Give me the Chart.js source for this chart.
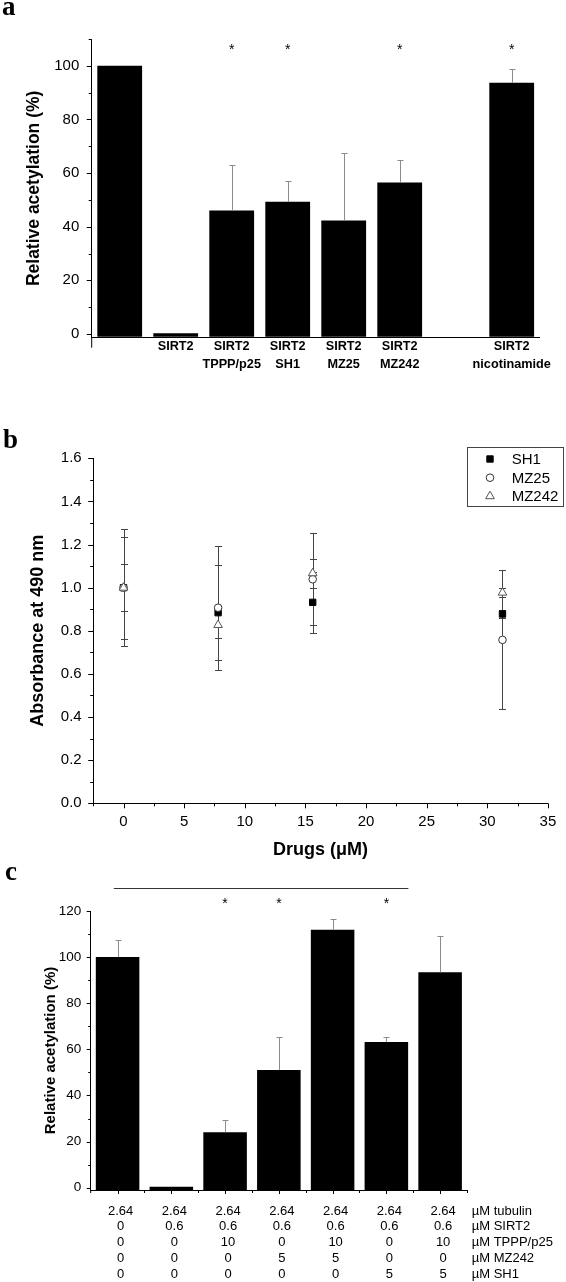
<!DOCTYPE html>
<html>
<head>
<meta charset="utf-8">
<script src="https://cdn.jsdelivr.net/npm/chart.js@4.4.1/dist/chart.umd.min.js"></script>
<style>
html,body{margin:0;padding:0;background:#fff;}
#wrap{position:relative;width:566px;height:1282px;overflow:hidden;background:#fff;}
.panel{position:absolute;left:0;width:566px;}
canvas{display:block;}
</style>
</head>
<body>
<div id="wrap">
  <div class="panel" style="top:0;height:380px"><canvas id="ca" width="566" height="380" style="width:566px;height:380px"></canvas></div>
  <div class="panel" style="top:380px;height:485px"><canvas id="cb" width="566" height="485" style="width:566px;height:485px"></canvas></div>
  <div class="panel" style="top:865px;height:417px"><canvas id="cc" width="566" height="417" style="width:566px;height:417px"></canvas></div>
</div>
<script>
// ---------------- DATA ----------------
// Panel a
const catsA = ['', 'SIRT2', ['SIRT2', 'TPPP/p25'], ['SIRT2', 'SH1'], ['SIRT2', 'MZ25'], ['SIRT2', 'MZ242'], '', ['SIRT2', 'nicotinamide']];
const valsA = [100, 0.3, 46.0, 49.3, 42.3, 56.5, null, 93.7];
const errA = [0, 0, 16.9, 7.6, 25.1, 8.3, 0, 5.2];
const starsA = [2, 3, 5, 7];
const yTicksA = [0, 20, 40, 60, 80, 100];

// Panel b
const concB = [0, 7.8, 15.6, 31.25];
const sh1B = [1.0, 0.884, 0.932, 0.878];
const sh1ErrB = [0.11, 0.221, 0.142, 0.02];
const mz25B = [1.0, 0.907, 1.039, 0.758];
const mz25ErrB = [0.272, 0.288, 0.213, 0.322];
const mz242B = [1.0, 0.827, 1.067, 0.977];
const mz242ErrB = [0.237, 0.062, 0.067, 0.02];
const xTicksB = [0, 5, 10, 15, 20, 25, 30, 35];
const yTicksB = [0, 0.2, 0.4, 0.6, 0.8, 1.0, 1.2, 1.4, 1.6];

// Panel c
const tubulinC = ['2.64', '2.64', '2.64', '2.64', '2.64', '2.64', '2.64'];
const sirt2C = ['0', '0.6', '0.6', '0.6', '0.6', '0.6', '0.6'];
const tpppC = ['0', '0', '10', '0', '10', '0', '10'];
const mz242C = ['0', '0', '0', '5', '5', '0', '0'];
const sh1C = ['0', '0', '0', '0', '0', '5', '5'];
const rowNamesC = ['\u00b5M tubulin', '\u00b5M SIRT2', '\u00b5M TPPP/p25', '\u00b5M MZ242', '\u00b5M SH1'];
const valsC = [100, 0.4, 24.0, 51.0, 111.9, 63.2, 93.4];
const errC = [7.3, 0, 5.2, 14.5, 4.5, 2.0, 15.9];
const starsC = [2, 3, 5];
const yTicksC = [0, 20, 40, 60, 80, 100, 120];

// ---------------- HELPERS ----------------
const FONT = "'Liberation Sans', Arial, Helvetica, sans-serif";
const SERIF = "'Liberation Serif', 'Times New Roman', serif";

function mids(arr) {
  const out = [];
  for (let i = 0; i < arr.length - 1; i++) out.push((arr[i] + arr[i + 1]) / 2);
  return out;
}

function ticksPlugin(id, items, ext) {
  return {
    id: id,
    afterDraw(chart) {
      const ctx = chart.ctx;
      ctx.save();
      ctx.strokeStyle = '#000';
      ctx.lineWidth = 1;
      items.forEach(it => {
        const s = chart.scales[it.axis];
        it.values.forEach(v => {
          const p = s.getPixelForValue(v);
          ctx.beginPath();
          if (s.isHorizontal()) {
            const px = Math.round(p) + 0.5;
            ctx.moveTo(px, s.top);
            ctx.lineTo(px, s.top + it.len);
          } else {
            const py = Math.round(p) + 0.5;
            ctx.moveTo(s.right, py);
            ctx.lineTo(s.right - it.len, py);
          }
          ctx.stroke();
        });
      });
      if (ext) {
        const a = chart.chartArea;
        ctx.beginPath();
        ctx.moveTo(a.left, a.bottom);
        ctx.lineTo(a.left, a.bottom + ext);
        ctx.stroke();
      }
      ctx.restore();
    }
  };
}

function errPlugin(id, sets, after) {
  const draw = (chart) => {
    const ctx = chart.ctx;
    ctx.save();
    sets.forEach(set => {
      const meta = chart.getDatasetMeta(set.ds);
      const ys = chart.scales[meta.yAxisID];
      const ds = chart.data.datasets[set.ds];
      ctx.strokeStyle = set.color;
      ctx.lineWidth = 1;
      meta.data.forEach((el, i) => {
        const raw = ds.data[i];
        const v = (raw !== null && typeof raw === 'object') ? raw.y : raw;
        const e = set.errors[i];
        if (v === null || v === undefined || !e) return;
        const x = Math.round(el.x) + 0.5;
        const yT = Math.round(ys.getPixelForValue(v + e)) + 0.5;
        const yB = set.both ? Math.round(ys.getPixelForValue(v - e)) + 0.5 : ys.getPixelForValue(v);
        ctx.beginPath();
        ctx.moveTo(x, yB); ctx.lineTo(x, yT);
        ctx.moveTo(x - set.cap, yT); ctx.lineTo(x + set.cap, yT);
        if (set.both) { ctx.moveTo(x - set.cap, yB); ctx.lineTo(x + set.cap, yB); }
        ctx.stroke();
      });
    });
    ctx.restore();
  };
  return after ? { id: id, afterDatasetsDraw: draw } : { id: id, beforeDatasetsDraw: draw };
}

function panelLabel(id, text, x, y) {
  return {
    id: id,
    afterDraw(chart) {
      const c = chart.ctx;
      c.save();
      c.font = 'bold 27px ' + SERIF;
      c.fillStyle = '#000';
      c.textBaseline = 'alphabetic';
      c.textAlign = 'left';
      c.fillText(text, x, y);
      c.restore();
    }
  };
}

function starsPlugin(id, idxs, val, size) {
  return {
    id: id,
    afterDraw(chart) {
      const c = chart.ctx, xs = chart.scales.x, ys = chart.scales.y;
      c.save();
      c.font = size + 'px ' + FONT;
      c.fillStyle = '#000';
      c.textAlign = 'center';
      c.textBaseline = 'alphabetic';
      idxs.forEach(i => {
        c.fillText('*', xs.getPixelForValue(i), ys.getPixelForValue(val) + size * 0.6);
      });
      c.restore();
    }
  };
}

function baseScale(extra) {
  return Object.assign({
    grid: { display: false, drawTicks: false, drawOnChartArea: false },
    border: { display: true, color: '#000', width: 1 }
  }, extra);
}

Chart.defaults.font.family = FONT;
Chart.defaults.color = '#000';

// ---------------- PANEL A ----------------
new Chart(document.getElementById('ca'), {
  type: 'bar',
  data: {
    labels: catsA,
    datasets: [{
      data: valsA,
      backgroundColor: '#000',
      borderWidth: 0,
      base: -1.0,
      barPercentage: 0.8,
      categoryPercentage: 1.0
    }]
  },
  options: {
    responsive: false, animation: false, devicePixelRatio: 1,
    layout: { autoPadding: false, padding: { left: 0, top: 39, right: 26.3, bottom: 0 } },
    plugins: { legend: { display: false }, tooltip: { enabled: false } },
    scales: {
      x: baseScale({
        ticks: { font: { family: FONT, size: 12.7, weight: 'bold', lineHeight: 1.42 }, padding: 0, maxRotation: 0, autoSkip: false, color: '#000' },
        afterFit: s => { s.height = 380 - 337.7; }
      }),
      y: baseScale({
        min: -1.4, max: 110,
        ticks: { font: { family: FONT, size: 15 }, padding: 12.4, color: '#000' },
        afterBuildTicks: s => { s.ticks = yTicksA.map(v => ({ value: v })); },
        afterFit: s => { s.width = 91.7; },
        title: { display: true, text: 'Relative acetylation (%)', color: '#000', font: { family: FONT, size: 17.5, weight: 'bold' }, padding: { top: 23.8, bottom: 0 } }
      })
    }
  },
  plugins: [
    errPlugin('errA', [{ ds: 0, errors: errA, color: '#8c8c8c', cap: 3, both: false }], true),
    ticksPlugin('tkA', [
      { axis: 'y', values: yTicksA, len: 5 },
      { axis: 'y', values: mids(yTicksA).concat([110]), len: 3 }
    ], 10),
    starsPlugin('stA', starsA, 107.6, 14),
    panelLabel('plA', 'a', 2, 15)
  ]
});

// ---------------- PANEL B ----------------
const legendB = {
  id: 'legB',
  afterDraw(chart) {
    const c = chart.ctx;
    c.save();
    const bx = 467.5, by = 67.5, bw = 96, bh = 59;
    c.strokeStyle = '#444';
    c.lineWidth = 1;
    c.strokeRect(bx, by, bw, bh);
    const rows = [79, 97.7, 116.2];
    chart.data.datasets.forEach((ds, i) => {
      const y = rows[i];
      c.fillStyle = ds.backgroundColor;
      c.strokeStyle = ds.borderColor;
      c.lineWidth = ds.borderWidth;
      const opts = { pointStyle: ds.pointStyle, radius: ds.pointRadius, borderWidth: ds.borderWidth, rotation: 0 };
      if (Chart.helpers && Chart.helpers.drawPoint) {
        Chart.helpers.drawPoint(c, opts, 490, y);
      }
      c.fillStyle = '#000';
      c.font = '15px ' + FONT;
      c.textAlign = 'left';
      c.textBaseline = 'middle';
      c.fillText(ds.label, 511.7, y + 1);
    });
    c.restore();
  }
};

new Chart(document.getElementById('cb'), {
  type: 'scatter',
  data: {
    datasets: [
      { label: 'SH1', order: 3, data: concB.map((x, i) => ({ x: x, y: sh1B[i] })), pointStyle: 'rect', pointRadius: 4.5, backgroundColor: '#000', borderColor: '#000', borderWidth: 1 },
      { label: 'MZ25', order: 2, data: concB.map((x, i) => ({ x: x, y: mz25B[i] })), pointStyle: 'circle', pointRadius: 3.8, backgroundColor: '#fff', borderColor: '#333', borderWidth: 1 },
      { label: 'MZ242', order: 1, data: concB.map((x, i) => ({ x: x, y: mz242B[i] })), pointStyle: 'triangle', pointRadius: 5, backgroundColor: '#fff', borderColor: '#555', borderWidth: 1 }
    ]
  },
  options: {
    responsive: false, animation: false, devicePixelRatio: 1,
    layout: { autoPadding: false, padding: { left: 0, top: 78.3, right: 13.5, bottom: 0 } },
    plugins: { legend: { display: false }, tooltip: { enabled: false } },
    scales: {
      x: baseScale({
        type: 'linear', min: -2.5, max: 35,
        ticks: { font: { family: FONT, size: 15 }, padding: 9.7, maxRotation: 0, color: '#000', callback: v => String(v) },
        afterBuildTicks: s => { s.ticks = xTicksB.map(v => ({ value: v })); },
        afterFit: s => { s.height = 485 - 423.3; },
        title: { display: true, text: 'Drugs (\u03bcM)', color: '#000', font: { family: FONT, size: 18, weight: 'bold' }, padding: { top: 0, bottom: 4.2 } }
      }),
      y: baseScale({
        type: 'linear', min: 0, max: 1.6,
        ticks: { font: { family: FONT, size: 15 }, padding: 11.5, color: '#000', callback: v => Number(v).toFixed(1) },
        afterBuildTicks: s => { s.ticks = yTicksB.map(v => ({ value: v })); },
        afterFit: s => { s.width = 93.2; },
        title: { display: true, text: 'Absorbance at 490 nm', color: '#000', font: { family: FONT, size: 18, weight: 'bold' }, padding: { top: 27.1, bottom: 0 } }
      })
    }
  },
  plugins: [
    errPlugin('errB', [
      { ds: 0, errors: sh1ErrB, color: '#444', cap: 3.5, both: true },
      { ds: 1, errors: mz25ErrB, color: '#444', cap: 3.5, both: true },
      { ds: 2, errors: mz242ErrB, color: '#444', cap: 3.5, both: true }
    ], false),
    ticksPlugin('tkB', [
      { axis: 'y', values: yTicksB, len: 5 },
      { axis: 'y', values: mids(yTicksB), len: 3 },
      { axis: 'x', values: xTicksB, len: 5 },
      { axis: 'x', values: [-2.5].concat(mids(xTicksB)), len: 3 }
    ], 0),
    legendB,
    panelLabel('plB', 'b', 3, 68.3)
  ]
});

// ---------------- PANEL C ----------------
const labelsC = tubulinC.map((t, i) => [t, sirt2C[i], tpppC[i], mz242C[i], sh1C[i]]);
const TICK_PAD_C = 13.1, LH_C = 15.8;
const extrasC = {
  id: 'exC',
  afterDraw(chart) {
    const c = chart.ctx, xs = chart.scales.x, ys = chart.scales.y;
    c.save();
    const slot = xs.getPixelForValue(1) - xs.getPixelForValue(0);
    const yL = Math.round(ys.getPixelForValue(130.1)) + 0.5;
    c.strokeStyle = '#333';
    c.lineWidth = 1;
    c.beginPath();
    c.moveTo(xs.getPixelForValue(0) - 0.07 * slot, yL);
    c.lineTo(xs.getPixelForValue(5) + 0.41 * slot, yL);
    c.stroke();
    c.fillStyle = '#000';
    c.font = '13px ' + FONT;
    c.textAlign = 'left';
    c.textBaseline = 'middle';
    rowNamesC.forEach((n, k) => {
      c.fillText(n, 471.7, xs.top + TICK_PAD_C + LH_C * (k + 0.5));
    });
    c.restore();
  }
};

new Chart(document.getElementById('cc'), {
  type: 'bar',
  data: {
    labels: labelsC,
    datasets: [{
      data: valsC,
      backgroundColor: '#000',
      borderWidth: 0,
      base: -1,
      barPercentage: 0.81,
      categoryPercentage: 1.0
    }]
  },
  options: {
    responsive: false, animation: false, devicePixelRatio: 1,
    layout: { autoPadding: false, padding: { left: 0, top: 46, right: 99, bottom: 0 } },
    plugins: { legend: { display: false }, tooltip: { enabled: false } },
    scales: {
      x: baseScale({
        ticks: { font: { family: FONT, size: 13, lineHeight: LH_C / 13 }, padding: TICK_PAD_C, labelOffset: 3, maxRotation: 0, autoSkip: false, color: '#000' },
        afterFit: s => { s.height = 417 - 325; }
      }),
      y: baseScale({
        min: -1, max: 120,
        ticks: { font: { family: FONT, size: 13.5 }, padding: 9.5, color: '#000' },
        afterBuildTicks: s => { s.ticks = yTicksC.map(v => ({ value: v })); },
        afterFit: s => { s.width = 90.7; },
        title: { display: true, text: 'Relative acetylation (%)', color: '#000', font: { family: FONT, size: 15, weight: 'bold' }, padding: { top: 42, bottom: 0 } }
      })
    }
  },
  plugins: [
    errPlugin('errC', [{ ds: 0, errors: errC, color: '#8c8c8c', cap: 3, both: false }], true),
    ticksPlugin('tkC', [
      { axis: 'y', values: yTicksC, len: 4 },
      { axis: 'y', values: mids(yTicksC), len: 2.5 },
      { axis: 'x', values: [0, 1, 2, 3, 4, 5, 6], len: 4 },
      { axis: 'x', values: [0.5, 1.5, 2.5, 3.5, 4.5, 5.5, 6.5], len: 3 }
    ], 3),
    starsPlugin('stC', starsC, 125, 14),
    extrasC,
    panelLabel('plC', 'c', 5, 15)
  ]
});
</script>
</body>
</html>
